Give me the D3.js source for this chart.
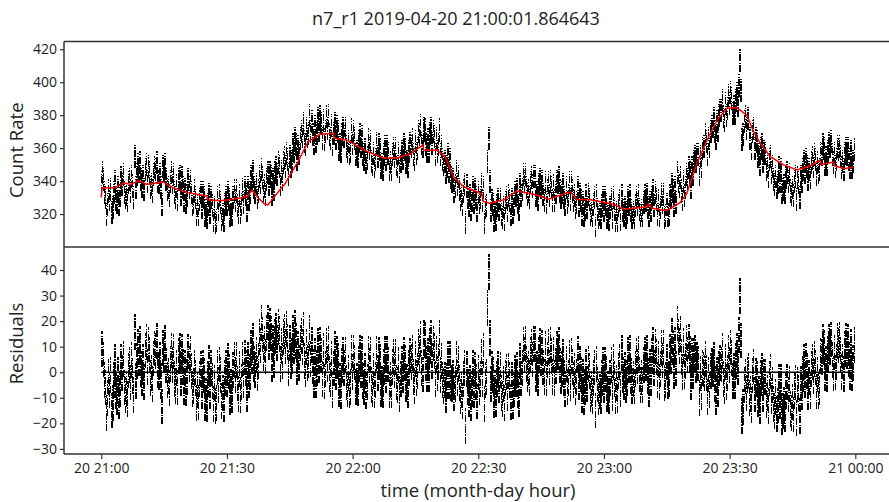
<!DOCTYPE html>
<html><head><meta charset="utf-8">
<script src="https://cdn.jsdelivr.net/npm/d3@7"></script>
<style>
body{margin:0;background:#fff;}
svg{display:block;font-family:"Open Sans",sans-serif;}
</style></head>
<body><svg id="c" width="889" height="502"></svg>
<script>
// ---- data ----
const title = "n7_r1 2019-04-20 21:00:01.864643";
const xTickMinutes = [0, 30, 60, 90, 120, 150, 180];
const xTickLabels = ["20 21:00","20 21:30","20 22:00","20 22:30","20 23:00","20 23:30","21 00:00"];
const countTicks = [320, 340, 360, 380, 400, 420];
const residTicks = [-30, -20, -10, 0, 10, 20, 30, 40];
const sampleStep = 0.5;   // minutes between samples of each run
const offsetA = 0, offsetB = 0.25; // start offsets (minutes) of the interleaved samples
const errHalf = 7;        // error bar half-width (counts)
const countRateA = [
339,341,330,326,329,321,333,329,336,331,338,333,332,339,334,337,355,344,346,341,
343,347,340,345,338,344,347,340,344,326,346,341,336,340,339,333,337,341,332,336,
335,331,336,333,327,330,325,329,324,330,322,326,321,325,324,316,323,327,320,326,
326,329,323,330,328,325,331,326,327,332,336,333,341,336,338,334,339,342,337,341,
338,343,341,345,344,349,346,351,349,353,355,352,358,362,361,366,367,364,372,369,
370,368,373,369,371,375,377,370,372,368,374,369,366,370,362,368,367,361,364,358,
363,366,358,364,361,356,359,354,360,352,357,353,355,359,350,356,353,357,351,356,
355,350,357,352,354,359,352,358,361,356,364,360,368,363,372,362,365,369,363,367,
366,362,356,353,352,349,346,342,341,337,338,335,331,334,315,330,331,328,327,330,
333,330,328,315,325,366,322,326,321,325,323,320,324,327,322,328,329,326,331,327,
338,335,340,336,334,339,337,343,333,338,336,332,339,334,331,336,337,333,339,334,
333,330,336,331,329,334,331,327,325,328,327,323,324,329,322,326,313,323,320,325,
322,326,320,324,318,323,321,325,317,322,324,321,326,322,321,325,326,323,322,327,
328,324,327,330,325,329,328,324,327,318,326,320,330,334,336,345,337,334,340,336,
341,345,348,352,352,356,355,360,361,364,366,370,373,370,376,380,383,379,387,384,
387,390,385,389,386,413,365,376,372,378,366,370,360,364,356,360,352,357,349,353,
345,341,343,339,340,333,337,342,340,334,336,340,329,339,343,347,345,349,347,351,
349,353,351,347,356,360,354,358,361,356,357,353,359,355,352,357,356,353,358,352
];
const countRateB = [
345,333,320,334,335,324,340,327,326,342,344,330,328,341,343,330,336,350,351,337,
335,350,349,336,334,348,351,339,336,349,350,335,331,345,344,330,329,343,342,328,
327,341,340,326,334,320,320,333,333,319,318,332,330,316,315,330,331,317,316,330,
333,319,320,334,334,321,321,335,336,322,329,343,346,333,330,343,347,334,332,345,
345,332,335,348,351,338,341,354,357,344,349,362,366,353,357,370,375,362,367,380,
376,363,364,378,379,366,365,379,380,366,362,375,373,359,358,372,372,358,357,371,
370,356,355,368,367,353,351,365,364,350,349,363,362,348,347,361,361,347,347,360,
360,349,346,358,362,351,349,363,365,353,357,370,374,361,371,358,358,372,370,356,
358,371,361,350,345,356,353,340,334,346,343,329,326,338,337,325,323,336,335,322,
327,338,336,324,352,340,328,316,317,329,329,318,317,330,331,320,321,333,335,323,
331,344,344,332,330,342,343,331,329,341,340,328,327,339,340,328,328,340,342,330,
338,326,327,339,339,328,324,336,332,320,319,331,332,320,319,330,331,318,318,330,
330,318,317,329,330,316,316,328,331,319,318,330,331,318,318,330,331,319,319,331,
332,319,322,334,333,320,319,332,332,319,319,331,338,325,327,340,342,329,331,344,
348,336,344,355,356,344,349,361,368,356,361,373,378,366,371,383,389,377,380,392,
394,381,381,393,398,395,368,379,378,366,360,372,366,355,350,362,358,347,343,355,
349,338,336,348,347,335,333,345,344,332,331,343,342,330,340,352,353,341,342,354,
356,344,345,357,362,350,350,363,364,351,349,361,361,348,347,360,360,348,348,359
];
const fitMinutes = [0,0.2,3.3,5.4,7,9,10.9,14.7,17.1,20.5,25.2,25.4,28.3,31.5,34.8,36,37.4,39,39.8,41,43.9,45,47,
49.4,52.2,55.4,55.6,58.6,63.4,67.4,70.6,73.7,76.8,77,80.1,82.1,84.1,86.5,89.7,90.9,91.2,92.8,96,99.2,104,106.8,111.9,113.5,116.7,
122.3,124.7,130.3,130.6,131.5,135,138.2,139.8,142.2,144.6,147,149.4,151.7,154.1,155.7,157.3,159.7,162.9,166.1,169.3,171.6,171.8,174.8,175,177.2,179.6];
const fitValues = [330,336,336,339,338,340.3,338,339.5,336,333,331,328.6,328,329,330.5,334.5,330,326,325.5,329.5,338.5,343.5,352,
364,368.4,369,366,365,358,354,354,356.4,362,358.5,358.8,354.8,342.6,336.6,333.5,332,327.5,326.5,328.5,334,331.5,329,333.5,329,328.6,
326,322.9,324.4,326,323.5,322,327,332.6,350.8,364.9,377,384.2,384.6,380,370,363,354.8,349.8,346.7,349.3,352.8,350,351.5,349.3,347.7,348.3];

// ---- layout ----
const svg = d3.select("#c");
const L = 64, R = 893, T1 = 41.5, B1 = 247, T2 = 247, B2 = 454;
const x = d3.scaleLinear().domain([-8.9, 189]).range([L, R]);
const y1 = d3.scaleLinear().domain([300, 424.7]).range([B1, T1]);
const y2 = d3.scaleLinear().domain([-32, 49]).range([B2, T2]);
const fit = d3.scaleLinear().domain(fitMinutes).range(fitValues).clamp(true);

const pts = [];
countRateA.forEach((v, i) => {
  pts.push({t: offsetA + i * sampleStep, v});
  pts.push({t: offsetB + i * sampleStep, v: countRateB[i]});
});
const dash = "7,1.3,1.3,1.3";
const barW = 1.5;

// top panel error bars
svg.append("g").attr("shape-rendering", "crispEdges")
  .selectAll("line").data(pts).join("line")
  .attr("x1", d => x(d.t)).attr("x2", d => x(d.t))
  .attr("y1", d => y1(d.v - errHalf)).attr("y2", d => y1(d.v + errHalf))
  .attr("stroke", "#000").attr("stroke-width", barW).attr("stroke-dasharray", dash);
// fit line
const fitPts = fitMinutes.map((t, i) => [t, fitValues[i]]);
svg.append("path").datum(fitPts)
  .attr("d", d3.line().x(d => x(d[0])).y(d => y1(d[1])))
  .attr("fill", "none").attr("stroke", "#ff0000").attr("stroke-width", 1.5);

// residual panel
svg.append("g").attr("shape-rendering", "crispEdges")
  .selectAll("line").data(pts).join("line")
  .attr("x1", d => x(d.t)).attr("x2", d => x(d.t))
  .attr("y1", d => y2(d.v - fit(d.t) - errHalf)).attr("y2", d => y2(d.v - fit(d.t) + errHalf))
  .attr("stroke", "#000").attr("stroke-width", barW).attr("stroke-dasharray", dash);
svg.append("line").attr("x1", x(0)).attr("x2", x(179.75)).attr("y1", y2(0)).attr("y2", y2(0))
  .attr("stroke", "#000").attr("stroke-width", 1.5);

// frames
const frameColor = "#333";
svg.append("line").attr("x1", L).attr("x2", R).attr("y1", T1).attr("y2", T1).attr("stroke", frameColor).attr("stroke-width", 1.5);
svg.append("line").attr("x1", L).attr("x2", R).attr("y1", B1).attr("y2", B1).attr("stroke", frameColor).attr("stroke-width", 1.5);

// axes
const fs = "14px";
const ay1 = svg.append("g").attr("transform", `translate(${L},0)`)
  .call(d3.axisLeft(y1).tickValues(countTicks).tickSize(4).tickPadding(3));
const ay2 = svg.append("g").attr("transform", `translate(${L},0)`)
  .call(d3.axisLeft(y2).tickValues(residTicks).tickSize(4).tickPadding(3));
const ax = svg.append("g").attr("transform", `translate(0,${B2})`)
  .call(d3.axisBottom(x).tickValues(xTickMinutes).tickFormat((d, i) => xTickLabels[i]).tickSize(5).tickPadding(4));
[ay1, ay2, ax].forEach(a => {
  a.selectAll("text").attr("font-size", fs).attr("font-family", "Open Sans").attr("fill", "#222");
  a.selectAll("line").attr("stroke", frameColor).attr("stroke-width", 1.2);
  a.select(".domain").attr("stroke", frameColor).attr("stroke-width", 1.5);
});
ay1.select(".domain").attr("d", `M0,${B1}V${T1}`);
ay2.select(".domain").attr("d", `M0,${B2}V${T2}`);
ax.select(".domain").attr("d", `M${L},0H${R}`);

// labels
svg.append("text").attr("x", 456).attr("y", 25).attr("text-anchor", "middle")
  .attr("font-size", "18px").attr("fill", "#222").text(title);
svg.append("text").attr("transform", `translate(23,${(T1 + B1) / 2 + 6}) rotate(-90)`).attr("text-anchor", "middle")
  .attr("font-size", "18.5px").attr("fill", "#222").text("Count Rate");
svg.append("text").attr("transform", `translate(23,${(T2 + B2) / 2 - 7}) rotate(-90)`).attr("text-anchor", "middle")
  .attr("font-size", "18.5px").attr("fill", "#222").text("Residuals");
svg.append("text").attr("x", 478).attr("y", 497).attr("text-anchor", "middle")
  .attr("font-size", "18.5px").attr("fill", "#222").text("time (month-day hour)");
</script></body></html>
